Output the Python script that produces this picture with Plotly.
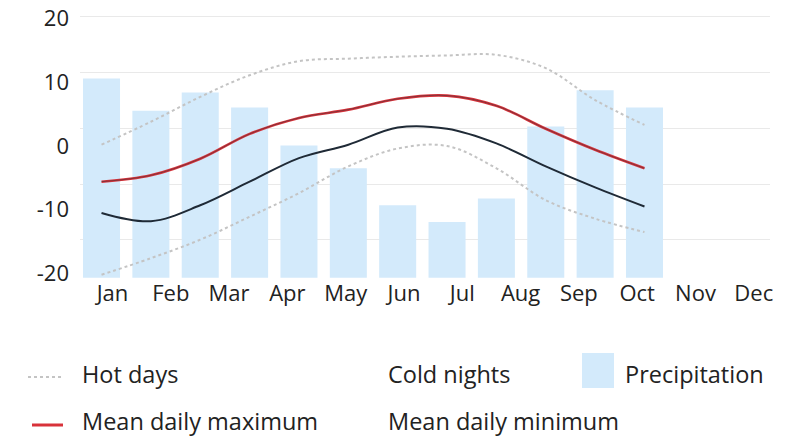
import plotly.graph_objects as go

# ---- data ----
months = ['Jan', 'Feb', 'Mar', 'Apr', 'May', 'Jun', 'Jul', 'Aug', 'Sep', 'Oct', 'Nov', 'Dec']
precipitation = [35.7, 29.9, 33.2, 30.5, 23.7, 19.6, 13.0, 10.0, 14.2, 27.1, 33.6, 30.5]
mean_daily_max = [-5.6, -4.6, -2.0, 1.9, 4.4, 5.7, 7.4, 7.9, 6.3, 2.7, -0.6, -3.5]
mean_daily_min = [-10.5, -11.8, -9.3, -5.6, -1.9, 0.2, 2.9, 2.7, 0.4, -3.2, -6.5, -9.5]
hot_days = [0.2, 3.8, 7.7, 11.1, 13.3, 13.7, 14.0, 14.2, 14.3, 12.2, 7.2, 3.3]
cold_nights = [-20.2, -17.6, -14.7, -11.1, -7.4, -3.2, -0.4, 0.0, -3.5, -8.5, -11.4, -13.5]
temp_ticks = [20, 10, 0, -10, -20]

FONT = 'Open Sans'
TXT = '#222222'

W, H = 808, 436
# plot area, in page pixels
L, R, T, B = 80, 770, 10, 281


def px(x):
    return (x - L) / (R - L)


def py(y):
    return (B - y) / (B - T)


fig = go.Figure()

fig.add_trace(go.Bar(x=months, y=precipitation, name='Precipitation',
                     marker=dict(color='#d3eafb', line=dict(width=0)),
                     xaxis='x', yaxis='y', showlegend=False, hoverinfo='skip'))

fig.add_trace(go.Scatter(x=months, y=hot_days, name='Hot days', mode='lines',
                         line=dict(color='#c4c4c4', width=2, dash='dot', shape='spline'),
                         xaxis='x', yaxis='y2', showlegend=False))
fig.add_trace(go.Scatter(x=months, y=cold_nights, name='Cold nights', mode='lines',
                         line=dict(color='#c4c4c4', width=2, dash='dot', shape='spline'),
                         xaxis='x', yaxis='y2', showlegend=False))
fig.add_trace(go.Scatter(x=months, y=mean_daily_max, name='Mean daily maximum', mode='lines',
                         line=dict(color='#d8323a', width=2.6, shape='spline'),
                         xaxis='x', yaxis='y2', showlegend=False))
fig.add_trace(go.Scatter(x=months, y=mean_daily_max, mode='lines',
                         line=dict(color='rgba(60,50,55,0.55)', width=1, shape='spline'),
                         xaxis='x', yaxis='y2', showlegend=False, hoverinfo='skip'))
fig.add_trace(go.Scatter(x=months, y=mean_daily_min, name='Mean daily minimum', mode='lines',
                         line=dict(color='#1f2a36', width=2, shape='spline'),
                         xaxis='x', yaxis='y2', showlegend=False))
# carrier for the month tick labels axis
fig.add_trace(go.Scatter(x=list(range(len(months))), y=[None] * len(months), mode='markers',
                         marker=dict(opacity=0), xaxis='x2', yaxis='y',
                         showlegend=False, hoverinfo='skip'))

# ---- legend drawn as shapes + text ----
shapes = [
    dict(type='line', xref='paper', yref='paper', x0=px(28), x1=px(63), y0=py(377), y1=py(377),
         line=dict(color='#c4c4c4', width=2, dash='dot')),
    dict(type='line', xref='paper', yref='paper', x0=px(32), x1=px(63), y0=py(425), y1=py(425),
         line=dict(color='#d8323a', width=3)),
    dict(type='rect', xref='paper', yref='paper', x0=px(582), x1=px(614), y0=py(353), y1=py(388),
         fillcolor='#d3eafb', line=dict(width=0)),
]
legend_items = [('Hot days', 80, 374), ('Cold nights', 386, 374), ('Precipitation', 623, 374),
                ('Mean daily maximum', 80, 421), ('Mean daily minimum', 386, 421)]
annotations = [dict(text=t, xref='paper', yref='paper', x=px(x), y=py(y), xanchor='left',
                    yanchor='middle', showarrow=False, font=dict(family=FONT, size=23.5, color=TXT))
               for t, x, y in legend_items]

fig.update_layout(
    width=W, height=H,
    margin=dict(l=L, r=W - R, t=T, b=H - B),
    paper_bgcolor='white', plot_bgcolor='white',
    font=dict(family=FONT, size=22, color=TXT),
    bargap=0.25,
    showlegend=False,
    hovermode=False,
    shapes=shapes,
    annotations=annotations,
    xaxis=dict(type='category', range=[-0.436, 13.543], showticklabels=False, automargin=False,
               showgrid=False, zeroline=False, showline=False, fixedrange=True),
    xaxis2=dict(overlaying='x', side='bottom', range=[-0.557, 11.278], automargin=False,
                tickmode='array', tickvals=list(range(len(months))), ticktext=months,
                showgrid=False, zeroline=False, showline=False, ticks='',
                ticklabelstandoff=-3,
                tickfont=dict(family=FONT, size=22, color=TXT)),
    yaxis=dict(range=[-0.59, 47.97], tick0=6.77, dtick=10, showticklabels=False, automargin=False,
               showgrid=True, gridcolor='#e9e9e9', gridwidth=1, zeroline=False, showline=False),
    yaxis2=dict(overlaying='y', side='left', range=[-21.18, 21.33], automargin=False,
                tickmode='array', tickvals=temp_ticks, ticktext=[str(v) for v in temp_ticks],
                showgrid=False, zeroline=False, showline=False, ticks='',
                ticklabeloverflow='allow',
                ticklabelstandoff=10, tickfont=dict(family=FONT, size=22, color=TXT)),
)

# remove the browser's default 8px page margin so the figure fills the window exactly
fig.write_html('out.html', config={'displayModeBar': False},
               post_script="document.body.style.margin='0';")
